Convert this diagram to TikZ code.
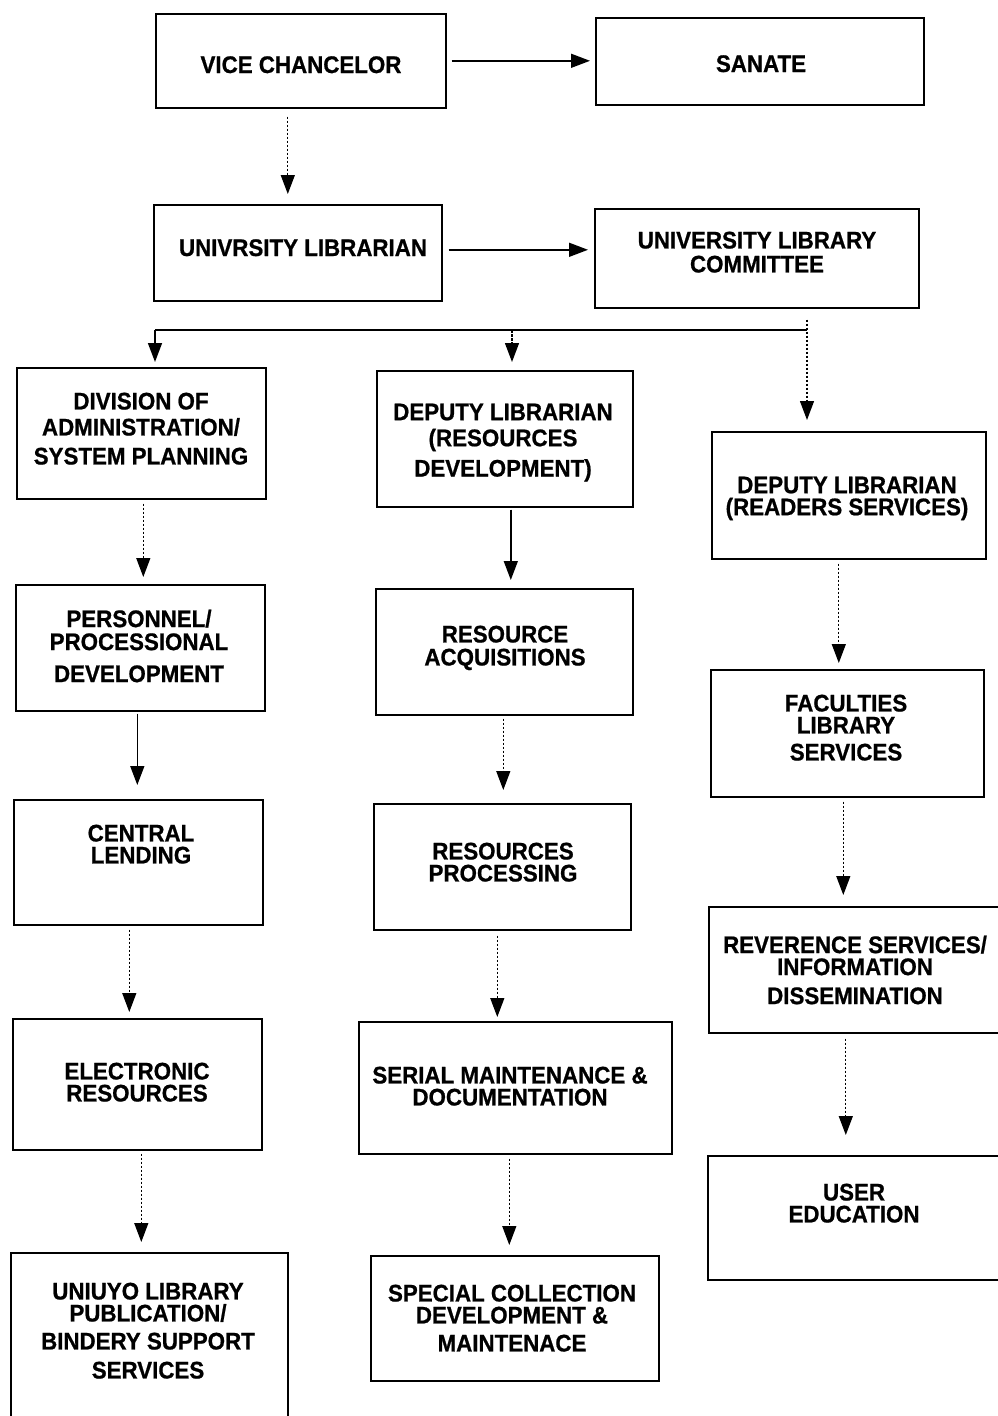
\documentclass[tikz,border=0pt]{standalone}
\usepackage{fontspec}
\newfontfamily\heavy{Liberation Sans}[FakeStretch=0.93, FakeBold=0.8]
\usetikzlibrary{arrows.meta}
\tikzset{
  box/.style={draw=black, line width=1.6pt, inner sep=0pt, anchor=north west},
  lbl/.style={anchor=base, inner sep=0pt, font=\heavy\bfseries\fontsize{24}{20}\selectfont},
  mlbl/.style={lbl, anchor=north, align=center},
  solidarr/.style={line width=1.5pt, -{Triangle[length=19pt,width=14pt]}},
  dotarr/.style={line width=1.3pt, dash pattern=on 2.5pt off 1.5pt, -{Triangle[length=19pt,width=14pt]}},
  plainline/.style={line width=1.6pt}
}
\newcommand{\bx}[5]{\node[box, minimum width=#4-#2, minimum height=#5-#3] (#1) at (#2,#3) {};}
\newcommand{\tl}[4]{\node[lbl] (#1) at (#2,#3) {#4};}
\newcommand{\tm}[4]{\node[mlbl] (#1) at (#2,#3) {#4};}
\begin{document}
\begin{tikzpicture}[x=1pt,y=-1pt]
\useasboundingbox (0,0) rectangle (997,1416);
% boxes
\bx{vc}{155}{13}{445}{107}
\bx{san}{595}{17}{923}{104}
\bx{ul}{153}{204}{441}{300}
\bx{ulc}{594}{208}{918}{307}
\bx{div}{16}{367}{265}{498}
\bx{deprs}{376}{370}{632}{506}
\bx{deprd}{711}{431}{985}{558}
\bx{pers}{15}{584}{264}{710}
\bx{acq}{375}{588}{632}{714}
\bx{fac}{710}{669}{983}{796}
\bx{cent}{13}{799}{262}{924}
\bx{proc}{373}{803}{630}{929}
\bx{rev}{708}{906}{1006}{1032}
\bx{elec}{12}{1018}{261}{1149}
\bx{ser}{358}{1021}{671}{1153}
\bx{user}{707}{1155}{1006}{1279}
\bx{uni}{10}{1252}{287}{1432}
\bx{spc}{370}{1255}{658}{1380}
% texts
\tl{t1}{301}{73}{VICE CHANCELOR}
\tl{t2}{761}{72}{SANATE}
\tl{t3}{303}{256}{UNIVRSITY LIBRARIAN}
\tm{t4}{757}{231.5}{UNIVERSITY LIBRARY\\[4pt]COMMITTEE}
\tm{t5}{141}{392.5}{DIVISION OF\\[6pt]ADMINISTRATION/\\[9pt]SYSTEM PLANNING}
\tm{t6}{503}{403.5}{DEPUTY LIBRARIAN\\[6pt](RESOURCES\\[7pt]DEVELOPMENT)}
\tm{t7}{847}{476.5}{DEPUTY LIBRARIAN\\[2pt](READERS SERVICES)}
\tm{t8}{139}{609.5}{PERSONNEL/\\[3pt]PROCESSIONAL\\[12pt]DEVELOPMENT}
\tm{t9}{505}{625.5}{RESOURCE\\[3pt]ACQUISITIONS}
\tm{t10}{846}{694.5}{FACULTIES\\[2pt]LIBRARY\\[7pt]SERVICES}
\tm{t11}{141}{824.5}{CENTRAL\\[2pt]LENDING}
\tm{t12}{503}{842.5}{RESOURCES\\[2pt]PROCESSING}
\tm{t13}{855}{935.5}{REVERENCE SERVICES/\\[2pt]INFORMATION\\[9pt]DISSEMINATION}
\tm{t14}{137}{1062.5}{ELECTRONIC\\[2pt]RESOURCES}
\tm{t15}{510}{1066.5}{SERIAL MAINTENANCE \&\\[2pt]DOCUMENTATION}
\tm{t16}{854}{1183.5}{USER\\[2pt]EDUCATION}
\tm{t17}{148}{1282.5}{UNIUYO LIBRARY\\[2pt]PUBLICATION/\\[8pt]BINDERY SUPPORT\\[9pt]SERVICES}
\tm{t18}{512}{1284.5}{SPECIAL COLLECTION\\[2pt]DEVELOPMENT \&\\[8pt]MAINTENACE}
% coordinates
\coordinate (br) at (807,330);
\coordinate (bl) at (155,330);
\coordinate (bm) at (512,330);
% connectors
\draw[solidarr, shorten <=5pt, shorten >=5pt] (vc.east) -- (vc.east -| san.west);
\draw[dotarr, shorten <=8pt, shorten >=10pt] ([xshift=-13pt]vc.south) -- ([xshift=-13pt]vc.south |- ul.north);
\draw[solidarr, shorten <=6pt, shorten >=6pt] ([yshift=3pt]ul.east) -- ([yshift=3pt]ul.east -| ulc.west);
\draw[dotarr, shorten <=11pt, shorten >=11pt] (br |- ulc.south) -- (br |- deprd.north);
\draw[plainline] (br) -- (bl);
\draw[solidarr, shorten >=5pt] (bl) -- (bl |- div.north);
\draw[dotarr, shorten >=8pt] (bm) -- (bm |- deprs.north);
% column 1
\draw[dotarr, shorten <=4pt, shorten >=7pt] ([xshift=2pt]div.south) -- ([xshift=2pt]div.south |- pers.north);
\draw[solidarr, shorten <=2pt, shorten >=14pt] ([xshift=-3pt]pers.south) -- ([xshift=-3pt]pers.south |- cent.north);
\draw[dotarr, shorten <=4pt, shorten >=6pt] ([xshift=-9pt]cent.south) -- ([xshift=-9pt]cent.south |- elec.north);
\draw[dotarr, shorten <=3pt, shorten >=10pt] ([xshift=4pt]elec.south) -- ([xshift=4pt]elec.south |- uni.north);
% column 2
\draw[solidarr, shorten <=2pt, shorten >=8pt] ([xshift=6pt]deprs.south) -- ([xshift=6pt]deprs.south |- acq.north);
\draw[dotarr, shorten <=3pt, shorten >=13pt] ([xshift=-1pt]acq.south) -- ([xshift=-1pt]acq.south |- proc.north);
\draw[dotarr, shorten <=5pt, shorten >=4pt] ([xshift=-5pt]proc.south) -- ([xshift=-5pt]proc.south |- ser.north);
\draw[dotarr, shorten <=4pt, shorten >=10pt] ([xshift=-6pt]ser.south) -- ([xshift=-6pt]ser.south |- spc.north);
% column 3
\draw[dotarr, shorten <=4pt, shorten >=6pt] ([xshift=-10pt]deprd.south) -- ([xshift=-10pt]deprd.south |- fac.north);
\draw[dotarr, shorten <=4pt, shorten >=11pt] ([xshift=-4pt]fac.south) -- ([xshift=-4pt]fac.south |- rev.north);
\draw[dotarr, shorten <=5pt, shorten >=20pt] ([xshift=-12pt]rev.south) -- ([xshift=-12pt]rev.south |- user.north);
\end{tikzpicture}
\end{document}
